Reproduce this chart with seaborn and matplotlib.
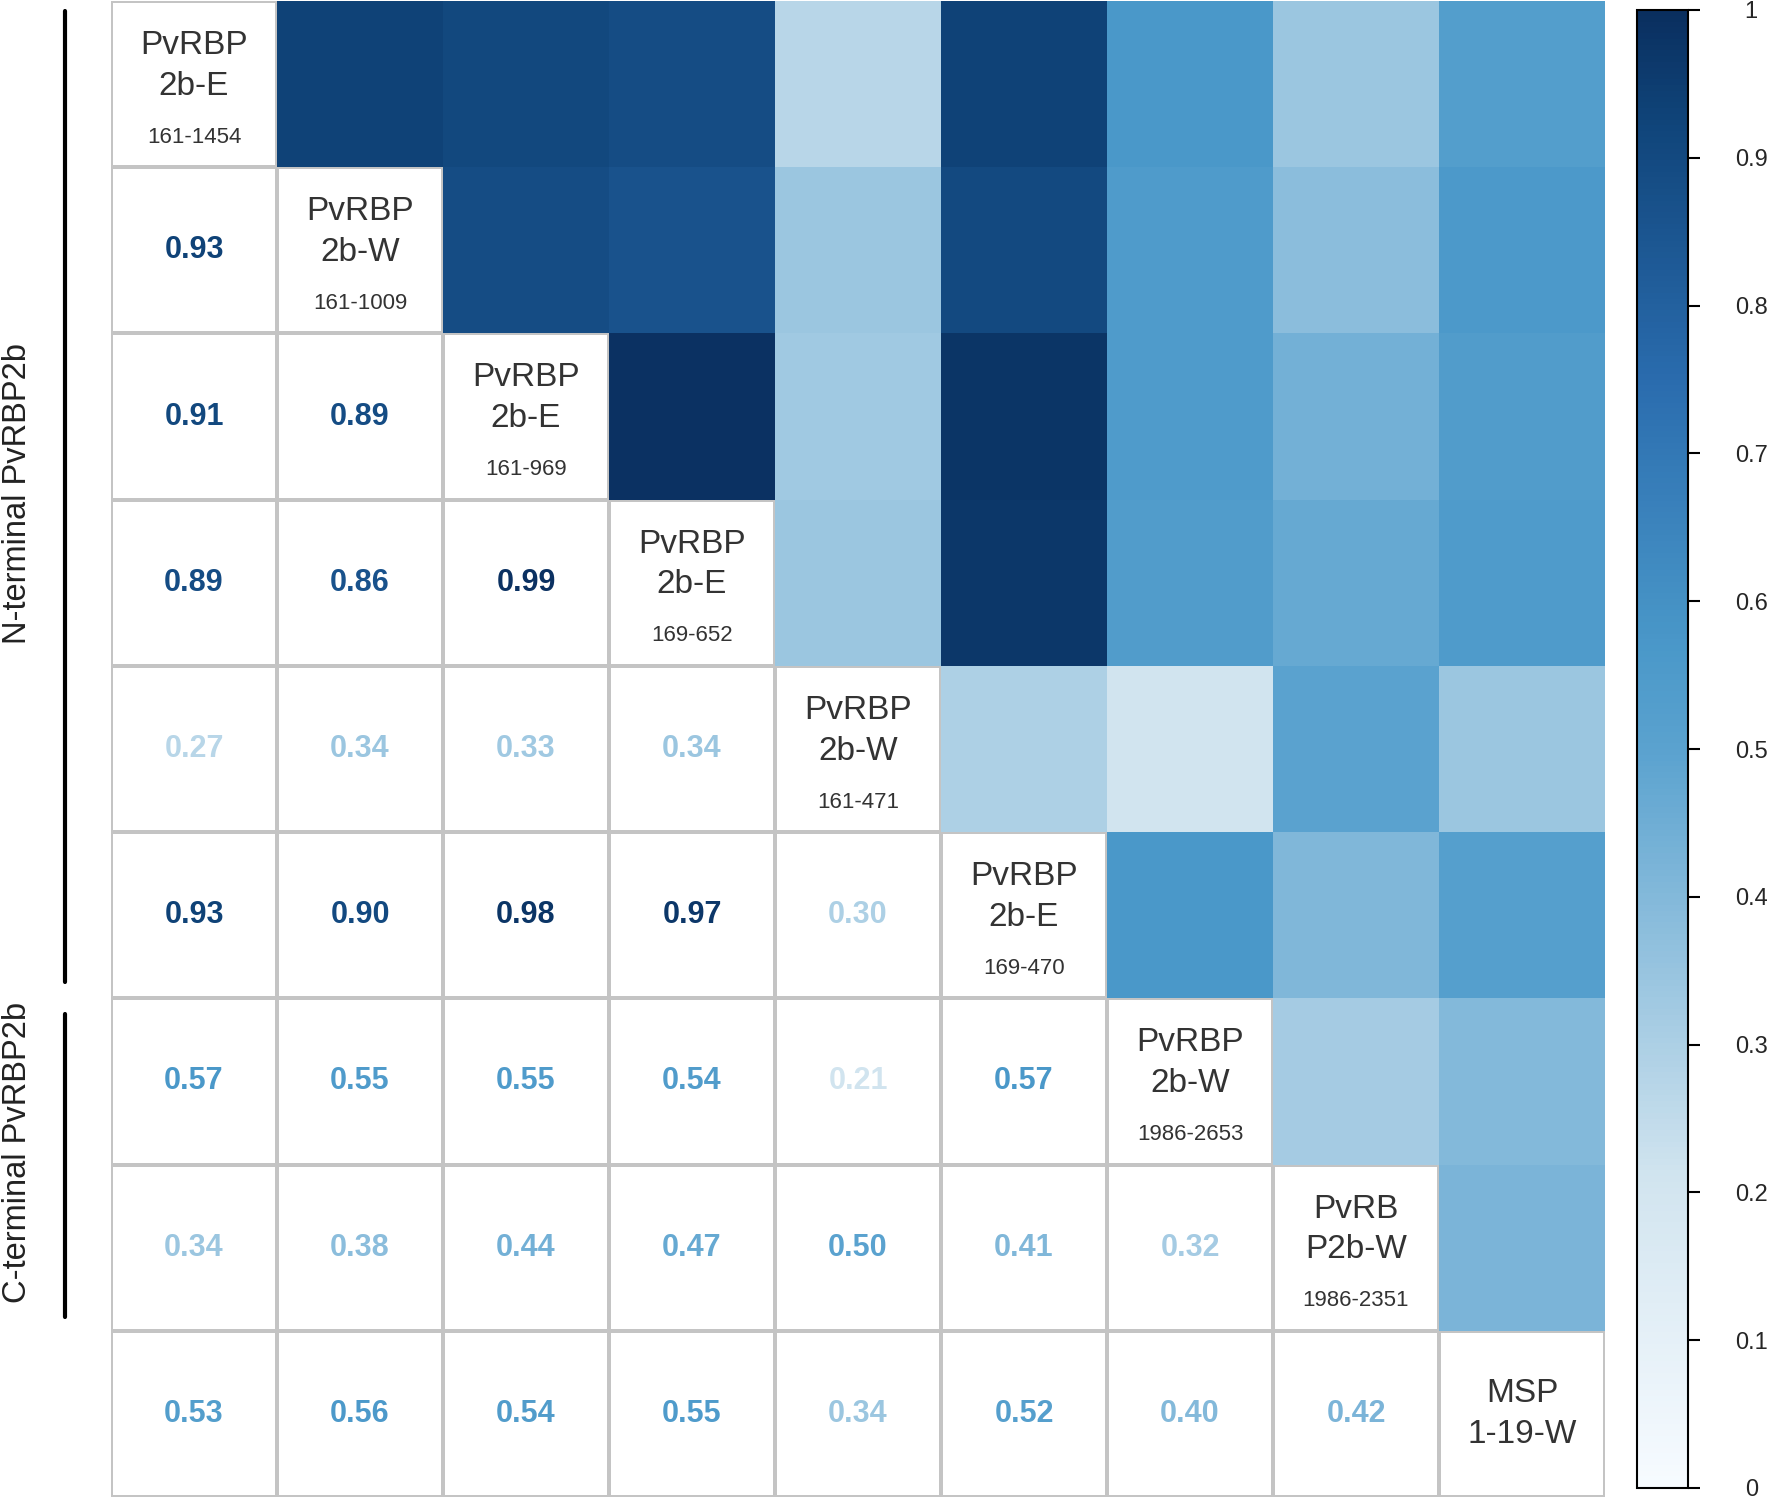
import numpy as np
import matplotlib.pyplot as plt
import seaborn as sns
from matplotlib.colors import ListedColormap, LinearSegmentedColormap
from matplotlib.lines import Line2D

# ============================================
# DATA
# ============================================
names = ["PvRBP\n2b-E", "PvRBP\n2b-W", "PvRBP\n2b-E", "PvRBP\n2b-E", "PvRBP\n2b-W",
         "PvRBP\n2b-E", "PvRBP\n2b-W", "PvRB\nP2b-W", "MSP\n1-19-W"]
ranges = ["161-1454", "161-1009", "161-969", "169-652", "161-471",
          "169-470", "1986-2653", "1986-2351", ""]

# lower triangle, row by row
row1 = [0.93]
row2 = [0.91, 0.89]
row3 = [0.89, 0.86, 0.99]
row4 = [0.27, 0.34, 0.33, 0.34]
row5 = [0.93, 0.90, 0.98, 0.97, 0.30]
row6 = [0.57, 0.55, 0.55, 0.54, 0.21, 0.57]
row7 = [0.34, 0.38, 0.44, 0.47, 0.50, 0.41, 0.32]
row8 = [0.53, 0.56, 0.54, 0.55, 0.34, 0.52, 0.40, 0.42]
lower = [row1, row2, row3, row4, row5, row6, row7, row8]

cbar_ticks = [0, 0.1, 0.2, 0.3, 0.4, 0.5, 0.6, 0.7, 0.8, 0.9, 1]
cbar_labels = ["0", "0.1", "0.2", "0.3", "0.4", "0.5", "0.6", "0.7", "0.8", "0.9", "1"]

# colour scale stops
cmap_pos = [0.0, 0.21, 0.27, 0.5, 0.57, 0.75, 0.93, 1.0]
cmap_col = ["#f7fbff", "#d1e4ef", "#b8d6e8", "#5aa2cf", "#4a98c9", "#2a6cae", "#0f4378", "#0a2f5f"]

n = len(names)
corr = np.eye(n)
for i, row in enumerate(lower, start=1):
    for j, v in enumerate(row):
        corr[i, j] = v
        corr[j, i] = v

# ============================================
# FIGURE
# ============================================
sns.set_theme(style="white")
plt.rcParams['font.family'] = ['Liberation Sans', 'DejaVu Sans']

W, H = 1770, 1500
fig = plt.figure(figsize=(W / 100, H / 100), dpi=100)
ax = fig.add_axes([111 / W, 3 / H, 1494 / W, 1496 / H])
cax = fig.add_axes([1637 / W, 12 / H, 51 / W, 1478 / H])

upper_mask = np.triu(np.ones((n, n), dtype=bool), k=1)
cmap = LinearSegmentedColormap.from_list("blues_ref", list(zip(cmap_pos, cmap_col)))

# white cells with grey grid (lower triangle + diagonal)
sns.heatmap(np.zeros_like(corr), mask=upper_mask, cmap=ListedColormap(['white']),
            cbar=False, linewidths=1.5, linecolor='#c4c4c4',
            xticklabels=False, yticklabels=False, ax=ax)

# coloured upper triangle
sns.heatmap(corr, mask=~upper_mask, cmap=cmap, vmin=0, vmax=1,
            xticklabels=False, yticklabels=False, ax=ax, cbar_ax=cax,
            cbar_kws={'ticks': cbar_ticks})

# numbers in lower triangle
for i, row in enumerate(lower, start=1):
    for j, v in enumerate(row):
        ax.text(j + 0.5, i + 0.5, f"{v:.2f}", ha='center', va='center',
                fontsize=22, fontweight='bold', color=cmap(v))

# diagonal labels
for i in range(n):
    if ranges[i]:
        ax.text(i + 0.5, i + 0.39, names[i], ha='center', va='center',
                fontsize=24, color='#333333', linespacing=1.4)
        ax.text(i + 0.5, i + 0.82, ranges[i], ha='center', va='center',
                fontsize=16, color='#333333')
    else:
        ax.text(i + 0.5, i + 0.5, names[i], ha='center', va='center',
                fontsize=24, color='#333333', linespacing=1.4)

# colorbar
cbar = ax.collections[-1].colorbar
cbar.outline.set_linewidth(1.5)
cbar.outline.set_edgecolor('black')
cax.set_yticklabels(cbar_labels)
cax.tick_params(axis='y', length=8.5, width=1.5, color='black', pad=37,
                labelsize=17, right=True)
for lab in cax.get_yticklabels():
    lab.set_horizontalalignment('center')

# group labels on the left
fig.text(18 / W, 1 - 493 / H, "N-terminal PvRBP2b", rotation=90,
         ha='center', va='center', fontsize=23.5, color='#222222')
fig.text(18 / W, 1 - 1152 / H, "C-terminal PvRBP2b", rotation=90,
         ha='center', va='center', fontsize=23.5, color='#222222')
fig.add_artist(Line2D([65 / W, 65 / W], [1 - 11 / H, 1 - 982 / H], lw=3, color='black'))
fig.add_artist(Line2D([65 / W, 65 / W], [1 - 1014 / H, 1 - 1317 / H], lw=3, color='black'))

fig.savefig('out.png', dpi=100)
